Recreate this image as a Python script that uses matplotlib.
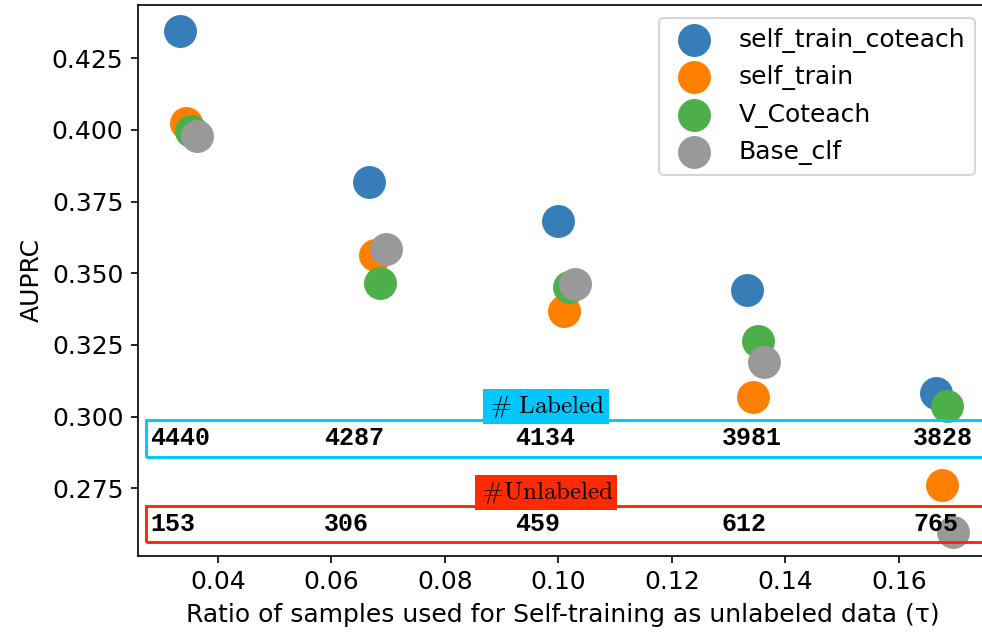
import numpy as np
import matplotlib
matplotlib.use("Agg")
import matplotlib.pyplot as plt
from matplotlib.patches import Rectangle

plt.rcParams["mathtext.fontset"] = "cm"

# ratio of unlabeled samples (tau) per run
n_labeled = [4440, 4287, 4134, 3981, 3828]
n_unlabeled = [153, 306, 459, 612, 765]
ratio = [u / 4593 for u in n_unlabeled]

methods = ["self_train_coteach", "self_train", "V_Coteach", "Base_clf"]
colors = ["#377eb8", "#ff7f00", "#4daf4a", "#999999"]
auprc = {
    "self_train_coteach": [0.4345, 0.3820, 0.3681, 0.3442, 0.3084],
    "self_train":         [0.4024, 0.3564, 0.3370, 0.3070, 0.2761],
    "V_Coteach":          [0.3995, 0.3465, 0.3454, 0.3265, 0.3038],
    "Base_clf":           [0.3978, 0.3585, 0.3462, 0.3190, 0.2597],
}
shift = 0.001  # small x jitter between methods

# where the count labels sit along x
count_x = [0.0281, 0.0587, 0.0923, 0.1288, 0.1625]

fig = plt.figure(figsize=(982 / 150, 635 / 150), dpi=150)
ax = fig.add_axes([0.1405, 0.1249, 0.8656, 0.8672])

for i, m in enumerate(methods):
    xs = np.array(ratio) + i * shift
    ax.scatter(xs, auprc[m], s=250, color=colors[i], linewidths=0, label=m, zorder=2)

ax.set_xlim(0.0259, 0.1757)
ax.set_ylim(0.2515, 0.4436)
ax.set_xticks([0.04, 0.06, 0.08, 0.10, 0.12, 0.14, 0.16])
ax.set_yticks([0.275, 0.300, 0.325, 0.350, 0.375, 0.400, 0.425])
ax.tick_params(labelsize=12)
ax.set_xlabel("Ratio of samples used for Self-training as unlabeled data (τ)", fontsize=12)
ax.set_ylabel("AUPRC", fontsize=12)

# boxes with counts
rows = [
    (n_labeled, "#00c8ff", r"$\,\#\ \mathrm{Labeled}\,$", 0.28605, 0.29885),
    (n_unlabeled, "#ff2a00", r"$\,\#\mathrm{Unlabeled}\,$", 0.25638, 0.26883),
]
for vals, col, title, y0, y1 in rows:
    ax.add_patch(Rectangle((0.0273, y0), 0.16, y1 - y0, fill=False,
                           edgecolor=col, linewidth=1.4, zorder=3, clip_on=False))
    for xv, v in zip(count_x, vals):
        ax.text(xv, (y0 + y1) / 2, str(v), fontsize=12, fontweight="bold",
                family="Liberation Mono", ha="left", va="center", zorder=4)
    ax.text(0.0978, y1, title, fontsize=12, ha="center", va="bottom", zorder=4,
            bbox=dict(boxstyle="square,pad=0.15", facecolor=col, edgecolor="none"))

ax.legend(loc="upper right", fontsize=12, scatterpoints=1)

fig.savefig("out.png", dpi=150)
